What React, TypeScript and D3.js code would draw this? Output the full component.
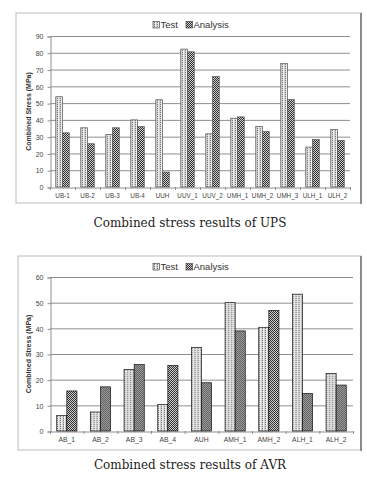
import { useEffect, useRef } from "react";
import * as d3 from "d3";

// UPS chart
const upsCategories = ["UB-1", "UB-2", "UB-3", "UB-4", "UUH", "UUV_1", "UUV_2", "UMH_1", "UMH_2", "UMH_3", "ULH_1", "ULH_2"];
const upsTest = [53.8, 35.3, 31.3, 40.0, 52.0, 82.2, 31.7, 41.0, 36.0, 73.6, 23.8, 34.3];
const upsAnalysis = [32.3, 25.8, 35.3, 36.0, 8.9, 80.6, 65.9, 41.8, 33.0, 52.1, 28.3, 27.8];
const upsTicks = [0, 10, 20, 30, 40, 50, 60, 70, 80, 90];

// AVR chart
const avrCategories = ["AB_1", "AB_2", "AB_3", "AB_4", "AUH", "AMH_1", "AMH_2", "ALH_1", "ALH_2"];
const avrTest = [6.0, 7.4, 24.0, 10.3, 32.5, 50.0, 40.4, 53.3, 22.4];
const avrAnalysis = [15.6, 17.2, 25.9, 25.5, 18.8, 39.0, 47.0, 14.6, 17.9];
const avrTicks = [0, 10, 20, 30, 40, 50, 60];

const seriesNames = ["Test", "Analysis"];

const App = () => {
    const svgRef = useRef<SVGSVGElement>(null);

    useEffect(() => {
        const svg = d3.select(svgRef.current);
        svg.selectAll("*").remove();

        // patterns
        const defs = svg.append("defs");
        const pTest = defs.append("pattern")
            .attr("id", "pTest").attr("patternUnits", "userSpaceOnUse")
            .attr("width", 3).attr("height", 2);
        pTest.append("rect").attr("width", 3).attr("height", 2).attr("fill", "#d2d2d2");
        pTest.append("rect").attr("x", 1).attr("y", 0).attr("width", 1).attr("height", 1).attr("fill", "#777");
        pTest.append("rect").attr("x", 2).attr("y", 0).attr("width", 1).attr("height", 2).attr("fill", "#eee");
        const pAna = defs.append("pattern")
            .attr("id", "pAna").attr("patternUnits", "userSpaceOnUse")
            .attr("width", 2).attr("height", 2);
        pAna.append("rect").attr("width", 2).attr("height", 2).attr("fill", "#d0d0d0");
        pAna.append("rect").attr("x", 0).attr("y", 0).attr("width", 1).attr("height", 1).attr("fill", "#2e2e2e");
        pAna.append("rect").attr("x", 1).attr("y", 1).attr("width", 1).attr("height", 1).attr("fill", "#2e2e2e");

        const drawChart = (cfg) => {
            const g = svg.append("g");
            // frame
            g.append("rect")
                .attr("x", cfg.frame[0]).attr("y", cfg.frame[1])
                .attr("width", cfg.frame[2] - cfg.frame[0]).attr("height", cfg.frame[3] - cfg.frame[1])
                .attr("fill", "white").attr("stroke", "#bdbdbd").attr("stroke-width", 1);
            g.append("line")
                .attr("x1", cfg.frame[2]).attr("x2", cfg.frame[2])
                .attr("y1", cfg.frame[1]).attr("y2", cfg.frame[3] + 1)
                .attr("stroke", "#8c8c8c").attr("stroke-width", 2);

            const x = d3.scaleBand().domain(cfg.categories).range([cfg.left, cfg.right]).padding(0);
            const x1 = d3.scaleBand().domain(seriesNames)
                .range([x.bandwidth() * (0.5 - cfg.groupFrac / 2), x.bandwidth() * (0.5 + cfg.groupFrac / 2)]);
            const y = d3.scaleLinear().domain([0, cfg.max]).range([cfg.bottom, cfg.top]);

            // grid
            g.selectAll(".grid").data(cfg.ticks.slice(1)).enter().append("line")
                .attr("x1", cfg.left).attr("x2", cfg.right)
                .attr("y1", d => y(d) + 0.5).attr("y2", d => y(d) + 0.5)
                .attr("stroke", "#8f8f8f").attr("stroke-width", 1);

            // y axis
            const yAxis = g.append("g")
                .attr("transform", "translate(" + (cfg.left + 0.5) + ",0.5)")
                .call(d3.axisLeft(y).tickValues(cfg.ticks).tickSize(3).tickPadding(4));
            yAxis.select(".domain").attr("stroke", "#8f8f8f");
            yAxis.selectAll(".tick line").attr("stroke", "#8f8f8f");
            yAxis.selectAll("text").attr("font-family", "Liberation Sans, Arial, sans-serif")
                .attr("font-size", 7).attr("fill", "#444");

            // x axis
            const xAxis = g.append("g").attr("transform", "translate(0," + (cfg.bottom + 0.5) + ")")
                .call(d3.axisBottom(x).tickSize(0).tickPadding(6));
            xAxis.select(".domain").attr("stroke", "#8f8f8f");
            xAxis.selectAll("text").attr("font-family", "Liberation Sans, Arial, sans-serif")
                .attr("font-size", cfg.xFont).attr("fill", "#444");
            g.selectAll(".xtick").data(d3.range(cfg.categories.length + 1)).enter().append("line")
                .attr("x1", i => cfg.left + i * x.bandwidth() + 0.5)
                .attr("x2", i => cfg.left + i * x.bandwidth() + 0.5)
                .attr("y1", cfg.bottom).attr("y2", cfg.bottom + 3)
                .attr("stroke", "#8f8f8f");

            // bars
            const rows = cfg.categories.map((c, i) => ({ c, vals: [cfg.test[i], cfg.analysis[i]] }));
            const grp = g.selectAll(".grp").data(rows).enter().append("g")
                .attr("transform", d => "translate(" + x(d.c) + ",0)");
            grp.selectAll("rect").data(d => d.vals.map((v, k) => ({ v, k })))
                .enter().append("rect")
                .attr("x", d => x1(seriesNames[d.k]))
                .attr("y", d => y(d.v))
                .attr("width", x1.bandwidth())
                .attr("height", d => cfg.bottom - y(d.v))
                .attr("fill", d => (d.k === 0 ? "url(#pTest)" : "url(#pAna)"))
                .attr("stroke", cfg.barStroke).attr("stroke-width", 0.7);

            // y title
            g.append("text")
                .attr("transform", "translate(" + cfg.titleX + "," + (cfg.top + cfg.bottom) / 2 + ") rotate(-90)")
                .attr("text-anchor", "middle")
                .attr("font-family", "Liberation Sans, Arial, sans-serif")
                .attr("font-weight", "bold").attr("font-size", 7).attr("fill", "#333")
                .text("Combined Stress (MPa)");

            // legend
            const leg = g.append("g").attr("transform", "translate(" + cfg.legend[0] + "," + cfg.legend[1] + ")");
            const items = [{ n: "Test", x: 0, f: "url(#pTest)" }, { n: "Analysis", x: 33, f: "url(#pAna)" }];
            items.forEach(it => {
                leg.append("rect").attr("x", it.x).attr("y", -6.5).attr("width", 6.5).attr("height", 6.5)
                    .attr("fill", it.f).attr("stroke", "#333").attr("stroke-width", 0.6);
                leg.append("text").attr("x", it.x + 7.5).attr("y", 0)
                    .attr("font-family", "Liberation Sans, Arial, sans-serif")
                    .attr("font-size", 9.5).attr("fill", "#333").text(it.n);
            });

            // caption
            svg.append("text").attr("x", 190).attr("y", cfg.caption)
                .attr("text-anchor", "middle")
                .attr("font-family", "DejaVu Serif, serif").attr("font-size", 12).attr("fill", "#222")
                .text(cfg.captionText);
        };

        drawChart({
            categories: upsCategories, test: upsTest, analysis: upsAnalysis, ticks: upsTicks, max: 90,
            frame: [16, 13, 361, 203], left: 50, right: 350, top: 36, bottom: 187,
            groupFrac: 0.54, xFont: 6.3, barStroke: "#555", titleX: 31, legend: [153, 28],
            caption: 227, captionText: "Combined stress results of UPS",
        });
        drawChart({
            categories: avrCategories, test: avrTest, analysis: avrAnalysis, ticks: avrTicks, max: 60,
            frame: [18, 256, 361, 450], left: 50, right: 353, top: 277, bottom: 431,
            groupFrac: 0.6, xFont: 6.8, barStroke: "#111", titleX: 31, legend: [153, 270],
            caption: 469, captionText: "Combined stress results of AVR",
        });
    }, []);

    return (
        <svg ref={svgRef} width={367} height={479}
            style={{ position: "absolute", left: 0, top: 0, background: "white" }} />
    );
};

export default App;
